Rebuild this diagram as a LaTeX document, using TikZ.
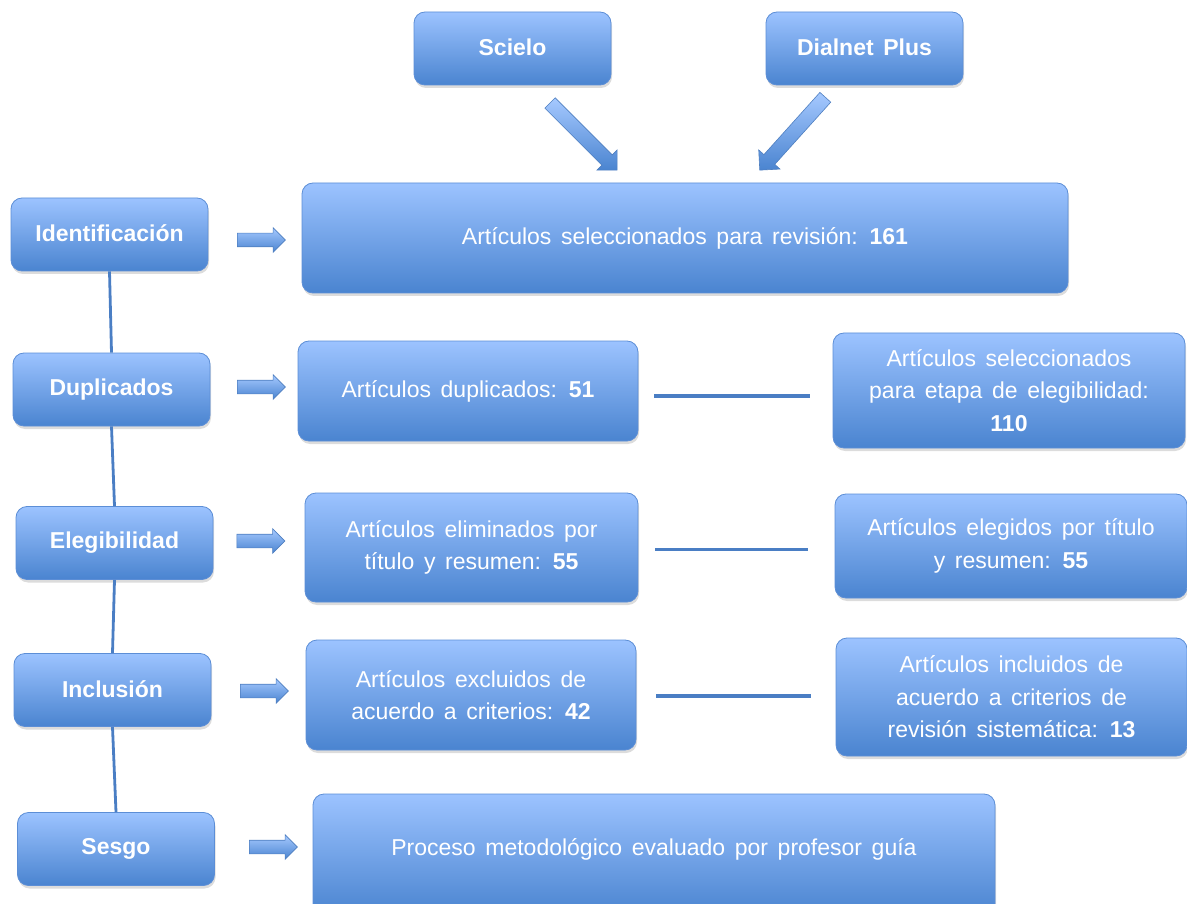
\documentclass[tikz,border=0pt]{standalone}
\usepackage{fontspec}
\setmainfont{Liberation Sans}
\usetikzlibrary{shapes.arrows,shadows}
\definecolor{boxtop}{HTML}{9CC3FF}
\definecolor{boxbot}{HTML}{4A84D0}
\definecolor{boxborder}{HTML}{5C8ED6}
\definecolor{linecol}{HTML}{4A7EC4}
\definecolor{arrborder}{HTML}{4F7FC0}
\newcommand{\boxfont}{\fontsize{23}{32.5}\selectfont\spaceskip=0.42em plus 0.1em\relax}
\tikzset{
  box/.style={rectangle, rounded corners=11pt, draw=boxborder, line width=0.8pt,
    top color=boxtop, bottom color=boxbot, text=white, align=center, inner sep=2pt,
    font=\boxfont,
    drop shadow={opacity=0.28, shadow xshift=1pt, shadow yshift=-3pt}},
  lab/.style={box, font=\bfseries\boxfont, minimum width=197pt, minimum height=73pt},
  barrow/.style={single arrow, draw=arrborder, line width=0.6pt, top color=boxtop!90!white,
    bottom color=boxbot, inner sep=6.5pt, single arrow head extend=5.5pt,
    single arrow head indent=0pt, minimum height=48pt},
  darrow/.style={barrow, inner sep=7pt, single arrow head extend=7pt},
  vline/.style={draw=linecol, line width=2.8pt},
  hline/.style={draw=linecol, line width=3.2pt}
}
\begin{document}
\begin{tikzpicture}[x=1pt,y=-1pt]
\useasboundingbox (0,0) rectangle (1187,904);
% top sources
\node[lab] (scielo) at (512.5,48.5) {\raisebox{3pt}{Scielo}};
\node[lab] (dialnet) at (864.5,48.5) {\raisebox{3pt}{Dialnet Plus}};
\node[darrow, minimum height=95pt, rotate=-45] (d1) at (581,134) {};
\node[darrow, minimum height=98pt, rotate=-132] (d2) at (795,131) {};
% left stage labels
\node[lab] (ident) at (109.5,234.5) {\raisebox{3pt}{Identificación}};
\node[lab] (dup) at (111.5,389.5) {\raisebox{3pt}{Duplicados}};
\node[lab] (eleg) at (114.5,543) {Elegibilidad};
\node[lab] (incl) at (112.5,690) {\raisebox{2pt}{Inclusión}};
\node[lab] (sesgo) at (116,849) {Sesgo};
% vertical connectors
\draw[vline] (ident.south) -- (dup.north);
\draw[vline] (dup.south) -- (eleg.north);
\draw[vline] (eleg.south) -- (incl.north);
\draw[vline] (incl.south) -- (sesgo.north);
% block arrows
\node[barrow] (a1) at (258,240) {};
\node[barrow] (a2) at (258,387) {};
\node[barrow] (a3) at (257.5,541) {};
\node[barrow] (a4) at (261,691) {};
\node[barrow] (a5) at (270,847) {};
% content boxes
\node[box, minimum width=766pt, minimum height=110pt] (rev) at (685,238)
  {Artículos seleccionados para revisión: \textbf{161}};
\node[box, minimum width=340pt, minimum height=100pt] (duplic) at (468,391)
  {\raisebox{3pt}{Artículos duplicados: \textbf{51}}};
\node[box, minimum width=352pt, minimum height=115pt] (sel) at (1009,390.5)
  {Artículos seleccionados\\para etapa de elegibilidad:\\\textbf{110}};
\node[box, minimum width=333pt, minimum height=109pt] (elim) at (471.5,547.5)
  {Artículos eliminados por\\título y resumen: \textbf{55}};
\node[box, minimum width=352pt, minimum height=104pt] (elegidos) at (1011,546)
  {Artículos elegidos por título\\y resumen: \textbf{55}};
\node[box, minimum width=330pt, minimum height=110pt] (excl) at (471,695)
  {Artículos excluidos de\\acuerdo a criterios: \textbf{42}};
\node[box, minimum width=351pt, minimum height=118pt] (inclu) at (1011.5,697)
  {Artículos incluidos de\\acuerdo a criterios de\\revisión sistemática: \textbf{13}};
\node[box, minimum width=682pt, minimum height=122pt] (proc) at (654,855)
  {\raisebox{16pt}{Proceso metodológico evaluado por profesor guía}};
% horizontal connectors
\draw[hline] ([xshift=16pt,yshift=-5pt]duplic.east) -- ([xshift=-23pt,yshift=-5pt]duplic.east -| sel.west);
\draw[hline] ([xshift=17pt,yshift=-2pt]elim.east) -- ([xshift=-27pt,yshift=-2pt]elim.east -| elegidos.west);
\draw[hline] ([xshift=20pt,yshift=-1pt]excl.east) -- ([xshift=-25pt,yshift=-1pt]excl.east -| inclu.west);
\end{tikzpicture}
\end{document}
